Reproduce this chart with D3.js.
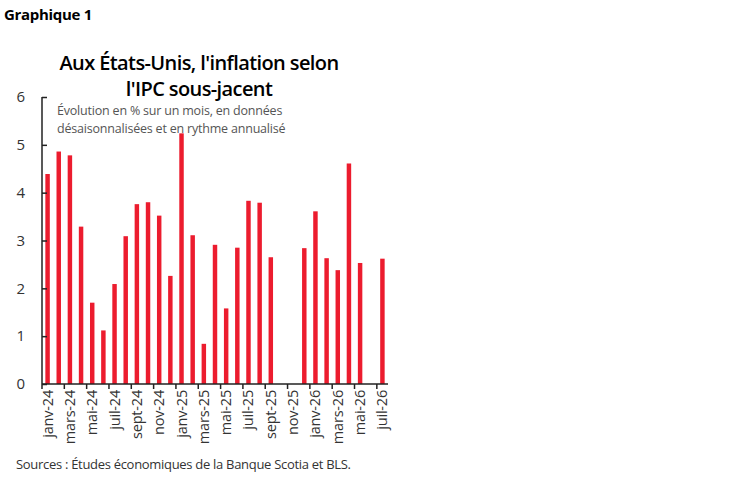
<!DOCTYPE html>
<html><head><meta charset="utf-8">
<script src="https://cdn.jsdelivr.net/npm/d3@7"></script>
<style>body{margin:0;background:#fff;}svg{display:block;}text{font-family:"Open Sans",sans-serif;}</style>
</head><body><svg id="c" width="748" height="483"></svg>
<script>
const months = ["janv-24","févr-24","mars-24","avr-24","mai-24","juin-24","juil-24","août-24","sept-24","oct-24","nov-24","déc-24",
"janv-25","févr-25","mars-25","avr-25","mai-25","juin-25","juil-25","août-25","sept-25","oct-25","nov-25","déc-25",
"janv-26","févr-26","mars-26","avr-26","mai-26","juin-26","juil-26"];
const values = [4.39,4.86,4.78,3.29,1.70,1.12,2.09,3.09,3.76,3.80,3.52,2.26,
5.24,3.11,0.84,2.91,1.58,2.85,3.83,3.79,2.65,null,null,2.84,
3.61,2.63,2.38,4.61,2.53,null,2.62];
const yTicks = [0,1,2,3,4,5,6];
const titleLines = ["Aux États-Unis, l'inflation selon","l'IPC sous-jacent"];
const subtitleLines = ["Évolution en % sur un mois, en données","désaisonnalisées et en rythme annualisé"];
const label = "Graphique 1";
const source = "Sources : Études économiques de la Banque Scotia et BLS.";

const svg = d3.select("#c");
const x = d3.scaleBand().domain(months).range([42,388]).paddingInner(0.6).paddingOuter(0.3);
const y = d3.scaleLinear().domain([0,6]).range([384,97]);

svg.append("text").attr("x",4).attr("y",20).attr("font-size",15).attr("font-weight",700).attr("letter-spacing",-0.3).text(label);
svg.selectAll(".t").data(titleLines).join("text").attr("x",199).attr("y",(d,i)=>70+i*26)
  .attr("text-anchor","middle").attr("font-size",20).attr("font-weight",600).attr("letter-spacing",-0.6).text(d=>d);
svg.selectAll(".s").data(subtitleLines).join("text").attr("x",57).attr("y",(d,i)=>115+i*18)
  .attr("font-size",12.5).attr("fill","#555").attr("letter-spacing",-0.2).text(d=>d);

svg.append("g").selectAll("rect").data(months.map((m,i)=>({m,v:values[i]})).filter(d=>d.v!=null)).join("rect")
  .attr("x",d=>x(d.m)).attr("width",x.bandwidth()).attr("y",d=>y(d.v)).attr("height",d=>y(0)-y(d.v)).attr("fill","#ec1c2e");

const ya = svg.append("g").attr("transform","translate(42,0)").call(d3.axisLeft(y).tickValues(yTicks).tickFormat(d3.format("d")).tickSize(5).tickPadding(12));
ya.select(".domain").attr("stroke","#222").attr("stroke-width",1.5).attr("d","M0,97H0V384");
ya.selectAll(".tick line").attr("stroke","#222").attr("stroke-width",1.5).attr("x1",0).attr("x2",5);
ya.selectAll("text").attr("font-size",15).attr("fill","#333").attr("font-family","Open Sans");

const xa = svg.append("g").attr("transform","translate(0,384)");
xa.append("line").attr("x1",42).attr("x2",388).attr("stroke","#222").attr("stroke-width",1.5);
const tickIdx = months.map((m,i)=>i).filter(i=>i%2===0);
xa.selectAll(".xt").data(tickIdx).join("line").attr("x1",i=>42+i*(346/31)).attr("x2",i=>42+i*(346/31)).attr("y1",0).attr("y2",5).attr("stroke","#222").attr("stroke-width",1.5);
xa.selectAll(".xl").data(tickIdx).join("text")
  .attr("transform",i=>`translate(${x(months[i])+x.bandwidth()/2+5},6) rotate(-90)`)
  .attr("text-anchor","end").attr("font-size",14.5).attr("fill","#333").attr("letter-spacing",-0.2).text(i=>months[i]);

svg.append("text").attr("x",16).attr("y",469).attr("font-size",13).attr("fill","#333").attr("letter-spacing",-0.3).text(source);
</script></body></html>
